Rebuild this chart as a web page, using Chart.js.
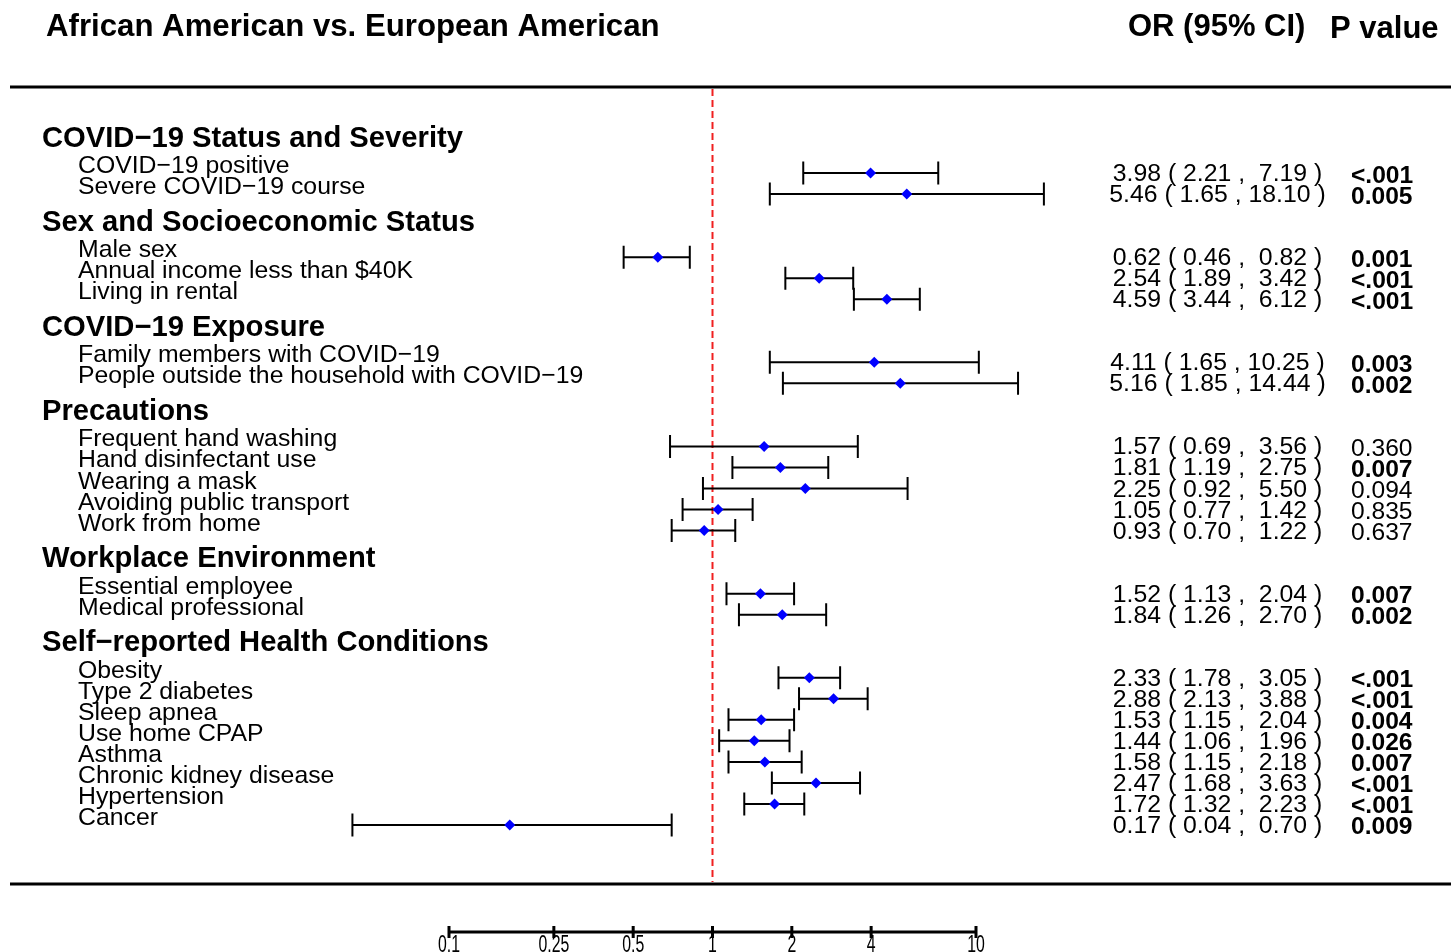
<!DOCTYPE html>
<html>
<head>
<meta charset="utf-8">
<script src="https://cdn.jsdelivr.net/npm/chart.js@4.4.1/dist/chart.umd.min.js"></script>
<style>
  html, body { margin: 0; padding: 0; background: #fff; overflow: hidden; }
  #wrap { width: 1451px; height: 952px; position: relative; }
</style>
</head>
<body>
<div id="wrap"><canvas id="forestChart"></canvas></div>
<script>
const groupNames = [
    "COVID\u221219 Status and Severity",
    "Sex and Socioeconomic Status",
    "COVID\u221219 Exposure",
    "Precautions",
    "Workplace Environment",
    "Self\u2212reported Health Conditions",
];
const groupSizes = [2, 3, 2, 5, 2, 8];
const itemLabels = [
    "COVID\u221219 positive", "Severe COVID\u221219 course",
    "Male sex", "Annual income less than $40K", "Living in rental",
    "Family members with COVID\u221219", "People outside the household with COVID\u221219",
    "Frequent hand washing", "Hand disinfectant use", "Wearing a mask",
    "Avoiding public transport", "Work from home",
    "Essential employee", "Medical professional",
    "Obesity", "Type 2 diabetes", "Sleep apnea", "Use home CPAP", "Asthma",
    "Chronic kidney disease", "Hypertension", "Cancer",
];
const oddsRatios = [3.98, 5.46, 0.62, 2.54, 4.59, 4.11, 5.16, 1.57, 1.81, 2.25, 1.05, 0.93,
    1.52, 1.84, 2.33, 2.88, 1.53, 1.44, 1.58, 2.47, 1.72, 0.17];
const ciLower = [2.21, 1.65, 0.46, 1.89, 3.44, 1.65, 1.85, 0.69, 1.19, 0.92, 0.77, 0.70,
    1.13, 1.26, 1.78, 2.13, 1.15, 1.06, 1.15, 1.68, 1.32, 0.043];
const ciUpper = [7.19, 18.10, 0.82, 3.42, 6.12, 10.25, 14.44, 3.56, 2.75, 5.50, 1.42, 1.22,
    2.04, 2.70, 3.05, 3.88, 2.04, 1.96, 2.18, 3.63, 2.23, 0.70];
const pValues = ["<.001", "0.005", "0.001", "<.001", "<.001", "0.003", "0.002", "0.360", "0.007",
    "0.094", "0.835", "0.637", "0.007", "0.002", "<.001", "<.001", "0.004", "0.026", "0.007",
    "<.001", "<.001", "0.009"];
const tickValues = [0.1, 0.25, 0.5, 1, 2, 4, 10];
const tickLabels = ["0.1", "0.25", "0.5", "1", "2", "4", "10"];

const FONT = '"Liberation Sans", Arial, Helvetica, sans-serif';

// row positions: items one unit apart, each new group header takes two extra units
const itemRows = [];
const headerRows = [];
let row = 0;
groupSizes.forEach((n, g) => {
    if (g > 0) row += 2;
    headerRows.push(row - 1.25);
    for (let i = 0; i < n; i++) {
        itemRows.push(row);
        row++;
    }
});

function ciText(i) {
    const hi = ciUpper[i].toFixed(2);
    return oddsRatios[i].toFixed(2) + " ( " + ciLower[i].toFixed(2) + " , " +
        (hi.length < 5 ? " " + hi : hi) + " )";
}

function isSignificant(p) {
    return p.startsWith("<") || parseFloat(p) < 0.05;
}

const forestPlugin = {
    id: "forest",
    beforeDatasetsDraw(chart) {
        const {ctx, chartArea, scales: {x, y}} = chart;
        ctx.save();

        ctx.strokeStyle = "#000";
        ctx.lineWidth = 3;
        [87, 884].forEach(py => {
            ctx.beginPath();
            ctx.moveTo(10, py);
            ctx.lineTo(chart.width, py);
            ctx.stroke();
        });

        const x1 = x.getPixelForValue(1);
        ctx.strokeStyle = "#f02020";
        ctx.lineWidth = 2;
        ctx.setLineDash([7, 4]);
        ctx.beginPath();
        ctx.moveTo(x1, 89);
        ctx.lineTo(x1, 882);
        ctx.stroke();
        ctx.setLineDash([]);

        // confidence intervals with end caps
        ctx.strokeStyle = "#000";
        ctx.lineWidth = 2;
        itemRows.forEach((r, i) => {
            const py = y.getPixelForValue(r);
            const lo = x.getPixelForValue(ciLower[i]);
            const hi = x.getPixelForValue(ciUpper[i]);
            ctx.beginPath();
            ctx.moveTo(lo, py);
            ctx.lineTo(hi, py);
            ctx.moveTo(lo, py - 11.5);
            ctx.lineTo(lo, py + 11.5);
            ctx.moveTo(hi, py - 11.5);
            ctx.lineTo(hi, py + 11.5);
            ctx.stroke();
        });

        // x axis: line, ticks, narrow labels
        const ay = chartArea.bottom;
        const ticks = x.ticks;
        ctx.lineWidth = 3;
        ctx.beginPath();
        ctx.moveTo(x.getPixelForValue(ticks[0].value), ay);
        ctx.lineTo(x.getPixelForValue(ticks[ticks.length - 1].value), ay);
        ticks.forEach(t => {
            const px = x.getPixelForValue(t.value);
            ctx.moveTo(px, ay - 6);
            ctx.lineTo(px, ay + 6);
        });
        ctx.stroke();

        ctx.fillStyle = "#000";
        ctx.font = "24px " + FONT;
        ctx.textAlign = "center";
        ctx.textBaseline = "alphabetic";
        ticks.forEach((t, i) => {
            ctx.save();
            ctx.translate(x.getPixelForValue(t.value), ay + 19.5);
            ctx.scale(0.66, 1);
            ctx.fillText(tickLabels[i], 0, 0);
            ctx.restore();
        });
        ctx.restore();
    },
    afterDraw(chart) {
        const {ctx, scales: {y}} = chart;
        ctx.save();
        ctx.fillStyle = "#000";
        ctx.textBaseline = "alphabetic";

        ctx.font = "bold 31.2px " + FONT;
        ctx.textAlign = "left";
        ctx.fillText("African American vs. European American", 46, 36);
        ctx.font = "bold 31px " + FONT;
        ctx.fillText("OR (95% CI)", 1128, 36);
        ctx.fillText("P value", 1330, 38);

        ctx.font = "bold 29.2px " + FONT;
        groupNames.forEach((g, k) => {
            ctx.fillText(g, 42, y.getPixelForValue(headerRows[k]));
        });

        ctx.font = "24.8px " + FONT;
        itemLabels.forEach((t, i) => {
            ctx.fillText(t, 78, y.getPixelForValue(itemRows[i]));
        });

        ctx.textAlign = "center";
        itemRows.forEach((r, i) => {
            ctx.fillText(ciText(i), 1217.5, y.getPixelForValue(r) + 8);
        });

        ctx.textAlign = "left";
        itemRows.forEach((r, i) => {
            const p = pValues[i];
            ctx.font = (isSignificant(p) ? "bold " : "") + "24.6px " + FONT;
            ctx.fillText(p, 1351, y.getPixelForValue(r) + 9.5);
        });
        ctx.restore();
    },
};

document.addEventListener("DOMContentLoaded", function () {
    const ctx = document.getElementById("forestChart").getContext("2d");

    new Chart(ctx, {
        type: "scatter",
        data: {
            datasets: [{
                data: oddsRatios.map((v, i) => ({x: v, y: itemRows[i]})),
                pointStyle: "rectRot",
                pointRadius: 5.5,
                backgroundColor: "#0000ff",
                borderWidth: 0,
                clip: false,
            }],
        },
        options: {
            responsive: true,
            maintainAspectRatio: false,
            animation: false,
            layout: {autoPadding: false, padding: {left: 449, right: 475, top: 0, bottom: 0}},
            plugins: {
                legend: {display: false},
                tooltip: {enabled: false},
            },
            scales: {
                x: {
                    type: "logarithmic",
                    min: 0.1,
                    max: 10,
                    grid: {display: false},
                    border: {display: false},
                    afterBuildTicks: scale => {
                        scale.ticks = tickValues.map(v => ({value: v}));
                    },
                    afterFit: scale => {
                        scale.height = 20;
                    },
                    ticks: {display: false, autoSkip: false},
                },
                y: {
                    type: "linear",
                    reverse: true,
                    display: false,
                    min: -8.23,
                    max: 36.09,
                },
            },
        },
        plugins: [forestPlugin],
    });
});
</script>
</body>
</html>
